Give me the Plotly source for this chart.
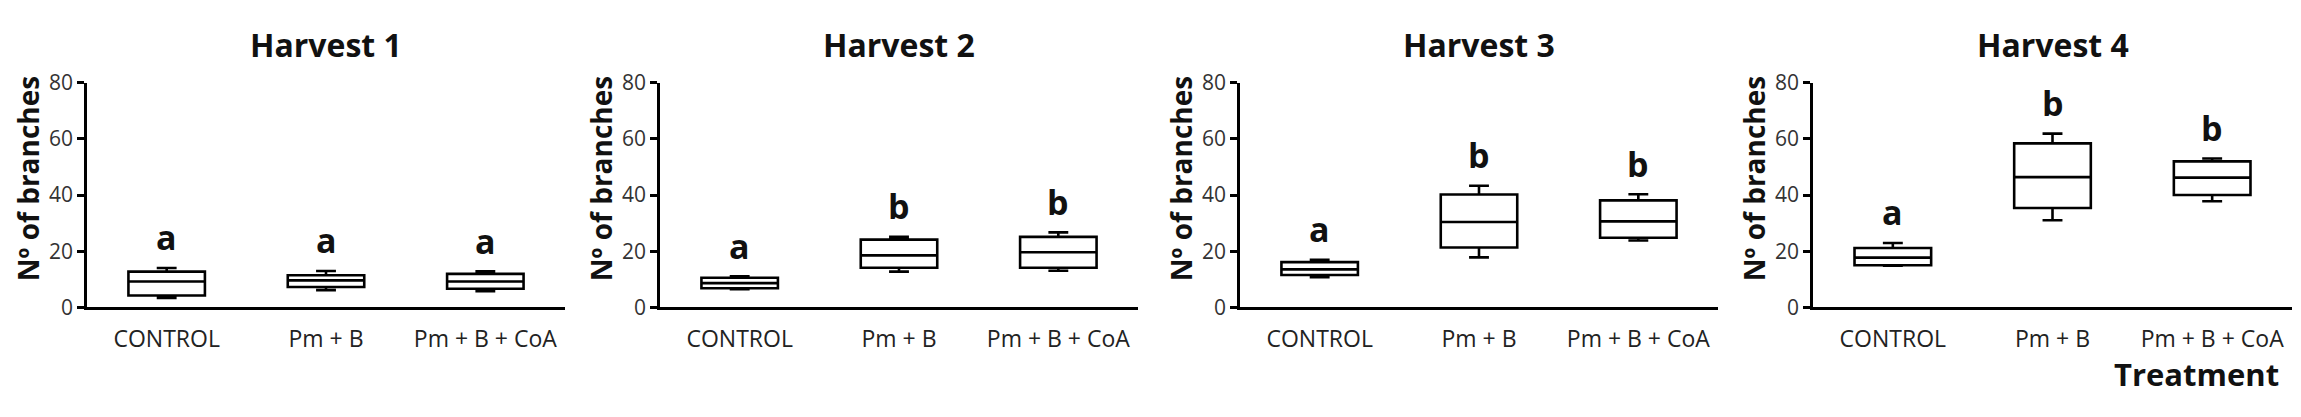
import plotly.graph_objects as go

# Data
categories = ["CONTROL", "Pm + B", "Pm + B + CoA"]
harvests = ["Harvest 1", "Harvest 2", "Harvest 3", "Harvest 4"]
y_ticks = [0, 20, 40, 60, 80]

whisker_low = [
    [3.3, 6.1, 5.7],
    [6.4, 12.7, 13.0],
    [10.7, 17.8, 23.8],
    [14.8, 31.0, 37.8],
]
q1_vals = [
    [4.2, 7.2, 6.6],
    [6.8, 14.1, 14.1],
    [11.5, 21.3, 24.8],
    [15.0, 35.4, 40.0],
]
median_vals = [
    [9.2, 9.6, 9.2],
    [8.6, 18.5, 19.6],
    [13.5, 30.4, 30.6],
    [17.7, 46.4, 46.2],
]
q3_vals = [
    [12.7, 11.4, 11.9],
    [10.5, 24.1, 25.1],
    [16.1, 40.2, 38.1],
    [21.1, 58.4, 52.0],
]
whisker_high = [
    [14.0, 12.9, 12.8],
    [11.0, 25.1, 26.7],
    [16.9, 43.3, 40.3],
    [22.9, 61.9, 53.0],
]
letters = [
    ["a", "a", "a"],
    ["a", "b", "b"],
    ["a", "b", "b"],
    ["a", "b", "b"],
]

y_title = "Nº of branches"
x_title = "Treatment"

# Style / layout in page pixels
FONT = "Open Sans, sans-serif"
W, H = 2301, 417
X_DOMAINS = [(87, 565), (660, 1138), (1240, 1718), (1813, 2292)]
Y_TOP, Y_BOT = 72.7, 313.3


def px(x):
    return x / W


def py(y):
    return 1 - y / H


fig = go.Figure()
layout = {}
annotations = []

y_dom = [py(Y_BOT), py(Y_TOP)]

for i, harvest in enumerate(harvests):
    ax = "" if i == 0 else str(i + 1)
    x0, x1 = X_DOMAINS[i]

    fig.add_trace(go.Box(
        x=categories,
        q1=q1_vals[i],
        median=median_vals[i],
        q3=q3_vals[i],
        lowerfence=whisker_low[i],
        upperfence=whisker_high[i],
        xaxis="x" + ax,
        yaxis="y" + ax,
        line=dict(color="black", width=2.6),
        fillcolor="white",
        width=0.48,
        whiskerwidth=0.26,
        boxpoints=False,
        showlegend=False,
    ))

    layout["xaxis" + ax] = dict(
        domain=[px(x0), px(x1)], anchor="y" + ax,
        type="category", range=[-0.5, 2.5],
        showline=True, linecolor="black", linewidth=2.7,
        ticks="", showgrid=False, zeroline=False,
        tickfont=dict(family=FONT, size=23, color="#222222"),
        ticklabelstandoff=9,
        fixedrange=True,
    )
    layout["yaxis" + ax] = dict(
        domain=y_dom, anchor="x" + ax,
        range=[0, 80], tickvals=y_ticks,
        showline=True, linecolor="black", linewidth=2.7,
        ticks="outside", ticklen=7, tickwidth=2.5, tickcolor="black",
        showgrid=False, zeroline=False,
        tickfont=dict(family=FONT, size=21, color="#333333"),
        fixedrange=True,
    )

    # panel title
    annotations.append(dict(
        text="<b>" + harvest + "</b>",
        xref="paper", yref="paper",
        x=px((x0 + x1) / 2), y=py(32),
        xanchor="center", yanchor="middle", showarrow=False,
        font=dict(family=FONT, size=32, color="#111111"),
    ))
    # y axis title
    annotations.append(dict(
        text="<b>" + y_title + "</b>",
        xref="paper", yref="paper",
        x=px(x0 - 59), y=py(176),
        xanchor="center", yanchor="middle", showarrow=False,
        textangle=-90,
        font=dict(family=FONT, size=28, color="#111111"),
    ))
    # significance letters
    for j, cat in enumerate(categories):
        annotations.append(dict(
            text="<b>" + letters[i][j] + "</b>",
            xref="x" + ax, yref="y" + ax,
            x=cat, y=whisker_high[i][j] + 2.0,
            xanchor="center", yanchor="bottom", showarrow=False,
            font=dict(family=FONT, size=34, color="#111111"),
        ))

annotations.append(dict(
    text="<b>" + x_title + "</b>",
    xref="paper", yref="paper",
    x=px(2196), y=py(385),
    xanchor="center", yanchor="middle", showarrow=False,
    font=dict(family=FONT, size=31, color="#111111"),
))

fig.update_layout(
    width=W, height=H, autosize=False,
    margin=dict(l=0, r=0, t=0, b=0),
    paper_bgcolor="white", plot_bgcolor="white",
    font=dict(family=FONT),
    annotations=annotations,
    **layout,
)

# drop the default body margin so the figure sits at the page origin
fig.write_html(
    "out.html",
    config={"displayModeBar": False},
    post_script="document.body.style.margin='0';",
)
